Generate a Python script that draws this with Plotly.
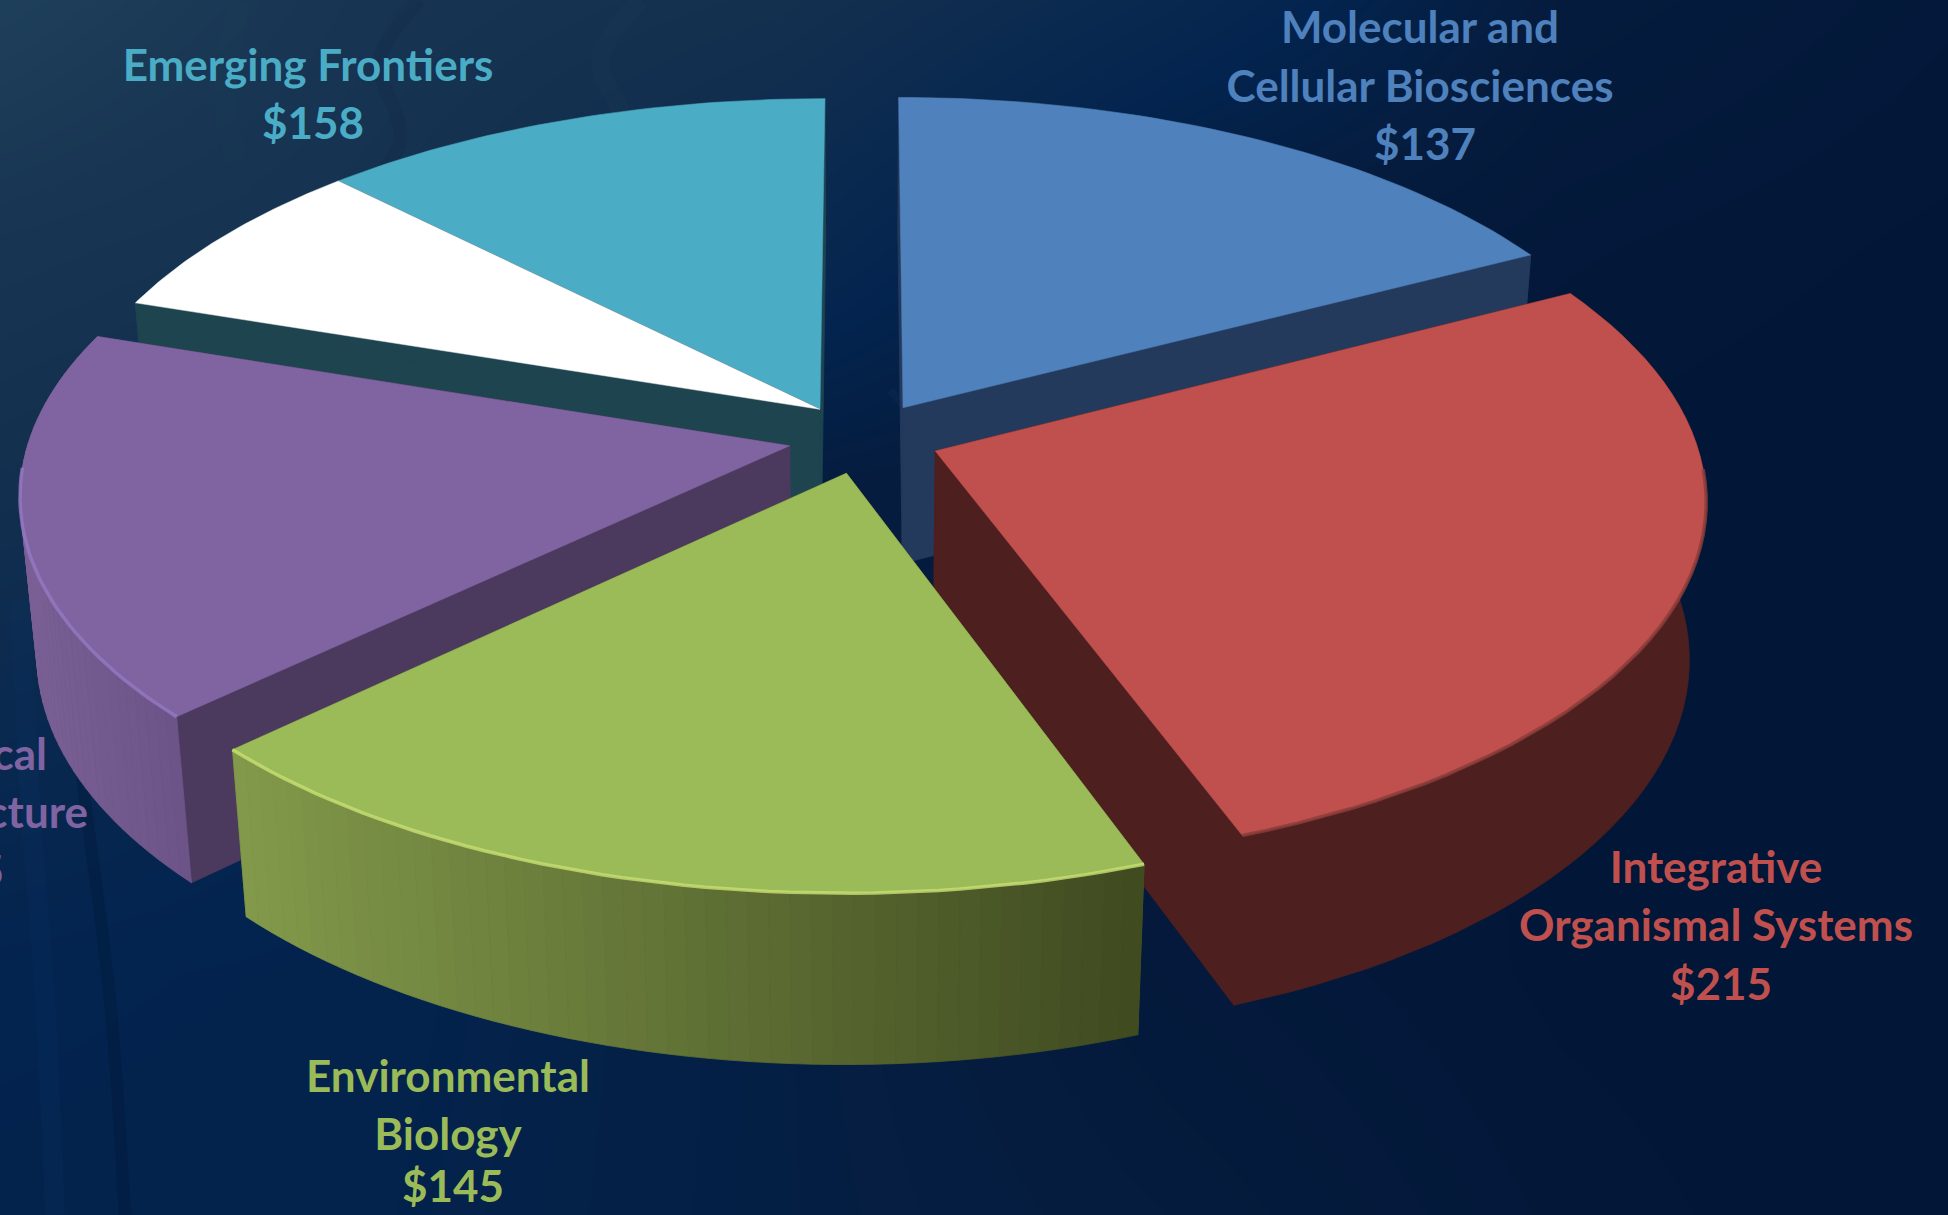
import math
import plotly.graph_objects as go

# ---------- data ----------
slice_names = ["Molecular and Cellular Biosciences", "Integrative Organismal Systems",
               "Environmental Biology", "Biological Infrastructure",
               "Emerging Frontiers (part)", "Emerging Frontiers"]
# slice sizes as drawn in the picture
slice_values = [137, 214, 146, 136, 59, 98]
label_lines = [["Molecular and", "Cellular Biosciences", "$137"],
               ["Integrative", "Organismal Systems", "$215"],
               ["Environmental", "Biology", "$145"],
               ["Biological", "Infrastructure", "$135"],
               ["Emerging Frontiers", "$158"]]

# ---------- style / camera ----------
W, H = 1948, 1215
CX, CY = 864, 438
A, B, C = 760, 357, 160
K, M = 0.127, 0.02
EXPLODE = 0.10
N_SEG = 48
top_colors = ["#4f81bd", "#c0504d", "#9bbb59", "#8064a2", "#ffffff", "#4bacc6"]
face_colors = ["#243a5c", "#4e1f1f", "#4f6030", "#4b3a5e", "#1e4450", "#1e4450"]
rim_left_right = [("#243a5c", "#243a5c"), ("#4e1f1f", "#4e1f1f"), ("#3f4a20", "#82994a"),
                  ("#6c5488", "#7a6094"), ("#1e4450", "#1e4450"), ("#1e4450", "#1e4450")]
rim_light = [None, "#8a3d3a", "#c8e074", "#9579c4", None, None]
label_colors = ["#4f81bd", "#c0504d", "#9bbb59", "#8064a2", "#4bacc6"]
label_xy = [[(1420, 32), (1420, 91), (1425, 149)],
            [(1716, 872), (1716, 930), (1721, 989)],
            [(448, 1081), (448, 1139), (453, 1191)],
            [(47, 759), (88, 817), (4, 876)],
            [(308, 70), (313, 128)]]
label_pos = ["middle center", "middle center", "middle center", "middle left", "middle center"]
bg_x = [0, 390, 780, 1170, 1560, 1948]
bg_y = [0, 243, 486, 729, 972, 1215]
bg_z = [[.92, .68, .6, .4, .14, .08],
        [.7, .62, .42, .14, .08, .05],
        [.58, .48, .16, .1, .05, .03],
        [.42, .3, .18, .08, .05, .03],
        [.3, .28, .2, .1, .05, .03],
        [.28, .27, .2, .14, .07, .03]]
bg_scale = [[0, "#011435"], [.15, "#051c3e"], [.3, "#03244f"], [.6, "#14304f"], [1, "#21435c"]]
streaks = [([60, 85, 110, 125], [600, 800, 1000, 1215], "rgba(1,20,50,0.3)", 12),
           ([20, 30, 45, 55], [600, 800, 1000, 1215], "rgba(10,50,100,0.2)", 20),
           ([420, 380, 400, 350, 360], [0, 60, 140, 220, 300], "rgba(10,30,60,0.12)", 14),
           ([640, 600, 620, 575], [0, 60, 120, 180], "rgba(40,70,95,0.1)", 18),
           ([240, 225, 240, 215], [0, 100, 200, 300], "rgba(30,65,90,0.1)", 22),
           ([890, 960, 1040], [390, 470, 560], "rgba(12,40,80,0.5)", 8)]


def proj(X, Y, Z=0.0):
    w = 1 + K * Y - M * Z
    return CX + A * X / w, CY - (B * Y + C * Z) / w


def hex2rgb(h):
    return [int(h[i:i + 2], 16) for i in (1, 3, 5)]


def mix(c1, c2, t):
    a, b = hex2rgb(c1), hex2rgb(c2)
    return "rgb(%d,%d,%d)" % tuple(round(a[i] + (b[i] - a[i]) * t) for i in range(3))


fig = go.Figure()
fig.add_trace(go.Heatmap(x=bg_x, y=bg_y, z=bg_z, zsmooth="best", colorscale=bg_scale,
                         zmin=0, zmax=1, showscale=False, hoverinfo="skip"))
for sx, sy, sc, sw in streaks:
    fig.add_trace(go.Scatter(x=sx, y=sy, mode="lines", line=dict(color=sc, width=sw, shape="spline"),
                             hoverinfo="skip", showlegend=False))


def poly(xs, ys, color, lw=0.8):
    fig.add_trace(go.Scatter(x=xs, y=ys, mode="lines", fill="toself", fillcolor=color,
                             line=dict(color=color, width=lw), hoverinfo="skip", showlegend=False))


# cumulative angles from the values
total = sum(slice_values)
starts, ends = [], []
acc = 0
for v in slice_values:
    starts.append(acc / total * 2 * math.pi)
    acc += v
    ends.append(acc / total * 2 * math.pi)

# white + cyan share one explosion direction, as one $158 segment
group_mid = [(starts[i] + ends[i]) / 2 for i in range(4)]
gm = (starts[4] + ends[5]) / 2
group_mid += [gm, gm]


def geom(i):
    ox = EXPLODE * math.sin(group_mid[i])
    oy = EXPLODE * math.cos(group_mid[i])
    angs = [starts[i] + (ends[i] - starts[i]) * j / N_SEG for j in range(N_SEG + 1)]
    pts = [(ox + math.sin(a), oy + math.cos(a)) for a in angs]
    return (ox, oy), pts


order = [5, 4, 0, 3, 1, 2]  # back to front
for i in order:
    (ox, oy), pts = geom(i)
    # radial faces
    for p in (pts[0], pts[-1]):
        q = [proj(ox, oy, 0), proj(p[0], p[1], 0), proj(p[0], p[1], -1), proj(ox, oy, -1)]
        poly([c[0] for c in q] + [q[0][0]], [c[1] for c in q] + [q[0][1]], face_colors[i])
    # rim, shaded along screen x
    lc, rc = rim_left_right[i]
    xs_all = [proj(p[0], p[1], 0)[0] for p in pts]
    xmin, xmax = min(xs_all), max(xs_all)
    step = 1 if lc != rc else N_SEG
    for j in range(0, N_SEG, step):
        seg = pts[j:j + step + 1]
        top = [proj(p[0], p[1], 0) for p in seg]
        bot = [proj(p[0], p[1], -1) for p in seg][::-1]
        ring = top + bot + [top[0]]
        t = ((top[0][0] + top[-1][0]) / 2 - xmin) / max(xmax - xmin, 1)
        poly([c[0] for c in ring], [c[1] for c in ring], mix(rc, lc, t) if i != 2 else mix(lc, rc, 1 - t))
    # top face
    ring = [proj(ox, oy, 0)] + [proj(p[0], p[1], 0) for p in pts] + [proj(ox, oy, 0)]
    poly([c[0] for c in ring], [c[1] for c in ring], top_colors[i], lw=0.5)
    # bevel highlight along the part of the rim that faces the viewer
    if rim_light[i]:
        r = [proj(p[0], p[1], 0) for p in pts if p[1] - oy < -0.05]
        fig.add_trace(go.Scatter(x=[c[0] for c in r], y=[c[1] for c in r], mode="lines",
                                 line=dict(color=rim_light[i], width=3.5), opacity=0.8,
                                 hoverinfo="skip", showlegend=False))

# labels, one point per line to keep the slide's line pitch
for lines, xy, col, pos in zip(label_lines, label_xy, label_colors, label_pos):
    fig.add_trace(go.Scatter(x=[p[0] for p in xy], y=[p[1] for p in xy], mode="text",
                             text=lines, textposition=pos,
                             textfont=dict(family="Lato", size=44, color=col, weight=700),
                             hoverinfo="skip", showlegend=False))

fig.update_layout(width=W, height=H, margin=dict(l=0, r=0, t=0, b=0),
                  paper_bgcolor="#021a3e", plot_bgcolor="#021a3e", showlegend=False,
                  xaxis=dict(range=[0, W], visible=False, fixedrange=True),
                  yaxis=dict(range=[H, 0], visible=False, fixedrange=True))
fig.write_html("out.html", config={"displayModeBar": False},
               post_script="document.body.style.margin='0';document.documentElement.style.overflow='hidden';")
